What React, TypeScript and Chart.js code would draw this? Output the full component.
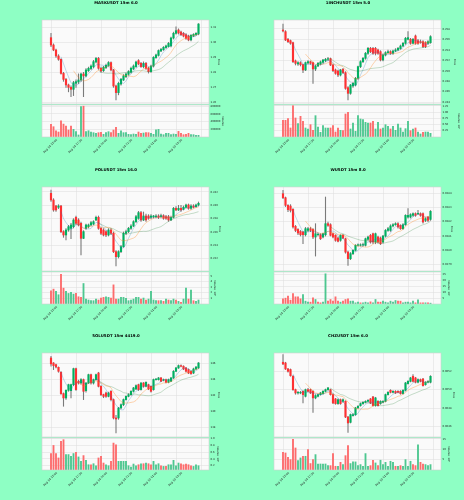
import React, { useEffect, useRef } from 'react';
import { Chart, registerables } from 'chart.js';

Chart.register(...registerables);

// ---------- shared axis data ----------
const X_TICK_POS = [0, 10, 20, 30, 40, 50, 60];
const X_TICK_LABELS = ['Aug 14 15:00', 'Aug 14 17:30', 'Aug 14 20:00', 'Aug 14 22:30', 'Aug 15 01:00', 'Aug 15 03:30', ''];
const MA_PERIODS = [5, 10, 20];

// ---------- MASKUSDT ----------
const MASK_OPEN = [1.3031,1.2982,1.2949,1.2909,1.2887,1.2793,1.2753,1.2716,1.2700,1.2687,1.2727,1.2736,1.2749,1.2789,1.2776,1.2811,1.2825,1.2838,1.2869,1.2893,1.2827,1.2811,1.2831,1.2845,1.2865,1.2816,1.2709,1.2665,1.2722,1.2749,1.2771,1.2787,1.2800,1.2823,1.2838,1.2878,1.2860,1.2838,1.2860,1.2827,1.2805,1.2842,1.2898,1.2913,1.2942,1.2951,1.2965,1.2972,1.2976,1.3029,1.3060,1.3082,1.3069,1.3060,1.3051,1.3042,1.3016,1.3042,1.3051,1.3056];
const MASK_HIGH = [1.3060,1.2990,1.2955,1.2918,1.2890,1.2800,1.2760,1.2722,1.2710,1.2740,1.2750,1.2790,1.2795,1.2800,1.2825,1.2835,1.2850,1.2880,1.2900,1.2900,1.2835,1.2840,1.2855,1.2872,1.2870,1.2820,1.2715,1.2735,1.2760,1.2785,1.2795,1.2812,1.2835,1.2850,1.2875,1.2885,1.2866,1.2870,1.2866,1.2835,1.2848,1.2905,1.2922,1.2950,1.2960,1.2972,1.2982,1.3000,1.3035,1.3068,1.3104,1.3090,1.3075,1.3066,1.3058,1.3048,1.3052,1.3058,1.3065,1.3125];
const MASK_LOW = [1.2971,1.2944,1.2900,1.2880,1.2788,1.2740,1.2700,1.2670,1.2638,1.2645,1.2700,1.2725,1.2740,1.2638,1.2770,1.2805,1.2818,1.2830,1.2862,1.2820,1.2800,1.2805,1.2825,1.2840,1.2810,1.2700,1.2616,1.2650,1.2715,1.2745,1.2765,1.2780,1.2795,1.2818,1.2832,1.2850,1.2832,1.2830,1.2820,1.2795,1.2800,1.2835,1.2892,1.2908,1.2938,1.2946,1.2960,1.2968,1.2970,1.3022,1.3055,1.3055,1.3045,1.3036,1.3020,1.3010,1.3010,1.3038,1.3045,1.3050];
const MASK_CLOSE = [1.2982,1.2949,1.2909,1.2887,1.2793,1.2753,1.2716,1.2700,1.2687,1.2731,1.2738,1.2749,1.2789,1.2776,1.2816,1.2827,1.2842,1.2871,1.2893,1.2827,1.2809,1.2834,1.2847,1.2865,1.2816,1.2709,1.2665,1.2727,1.2754,1.2776,1.2789,1.2805,1.2827,1.2842,1.2869,1.2856,1.2838,1.2860,1.2827,1.2805,1.2842,1.2900,1.2916,1.2945,1.2953,1.2967,1.2976,1.2993,1.3029,1.3060,1.3078,1.3062,1.3051,1.3042,1.3027,1.3016,1.3047,1.3053,1.3060,1.3122];
const MASK_VOL = [327000,267000,163000,129000,421000,335000,284000,181000,284000,198000,138000,52000,790000,800000,138000,163000,129000,112000,95000,112000,120000,69000,112000,138000,112000,181000,250000,95000,163000,112000,112000,69000,60000,77000,69000,129000,95000,103000,112000,112000,95000,69000,189000,198000,77000,60000,95000,95000,60000,77000,69000,146000,95000,60000,69000,95000,60000,60000,43000,43000];
const MASK_PRICE_TICKS = [1.26, 1.27, 1.28, 1.29, 1.30, 1.31];
const MASK_VOL_TICKS = [200000, 400000, 600000, 800000];

// ---------- 1INCHUSDT ----------
const INCH_OPEN = [0.25781,0.25749,0.25603,0.25577,0.25539,0.25189,0.25131,0.25157,0.25119,0.25017,0.25151,0.25176,0.25157,0.25036,0.25093,0.25131,0.25163,0.25195,0.25221,0.25233,0.25112,0.25017,0.24998,0.24921,0.25030,0.24966,0.24679,0.24571,0.24711,0.24730,0.24858,0.25081,0.25176,0.25240,0.25335,0.25431,0.25431,0.25431,0.25399,0.25367,0.25208,0.25303,0.25348,0.25367,0.25335,0.25380,0.25399,0.25425,0.25475,0.25526,0.25603,0.25603,0.25526,0.25667,0.25577,0.25558,0.25558,0.25539,0.25526,0.25539];
const INCH_HIGH = [0.25896,0.25769,0.25622,0.25590,0.25552,0.25208,0.25176,0.25176,0.25131,0.25170,0.25195,0.25189,0.25170,0.25106,0.25163,0.25189,0.25221,0.25240,0.25259,0.25246,0.25125,0.25036,0.25017,0.25030,0.25049,0.24985,0.24698,0.24743,0.24781,0.24877,0.25093,0.25195,0.25259,0.25354,0.25450,0.25450,0.25450,0.25450,0.25418,0.25386,0.25323,0.25367,0.25399,0.25386,0.25399,0.25425,0.25450,0.25495,0.25546,0.25641,0.25749,0.25622,0.25622,0.25686,0.25603,0.25590,0.25577,0.25558,0.25577,0.25673];
const INCH_LOW = [0.25743,0.25577,0.25539,0.25507,0.25157,0.25112,0.25106,0.25093,0.24966,0.25004,0.25131,0.25125,0.24762,0.25004,0.25081,0.25112,0.25144,0.25176,0.25195,0.25100,0.24985,0.24934,0.24889,0.24902,0.24947,0.24647,0.24444,0.24552,0.24686,0.24711,0.24838,0.25061,0.25157,0.25221,0.25316,0.25348,0.25316,0.25303,0.25316,0.25189,0.25189,0.25284,0.25335,0.25316,0.25316,0.25367,0.25386,0.25412,0.25463,0.25507,0.25590,0.25507,0.25514,0.25507,0.25507,0.25526,0.25444,0.25444,0.25507,0.25526];
const INCH_CLOSE = [0.25762,0.25590,0.25558,0.25526,0.25176,0.25144,0.25157,0.25119,0.25017,0.25157,0.25176,0.25144,0.25036,0.25093,0.25144,0.25170,0.25208,0.25221,0.25233,0.25112,0.25004,0.24953,0.24921,0.25017,0.24966,0.24666,0.24571,0.24730,0.24762,0.24858,0.25081,0.25176,0.25240,0.25335,0.25431,0.25367,0.25335,0.25335,0.25335,0.25208,0.25303,0.25348,0.25367,0.25335,0.25380,0.25399,0.25431,0.25475,0.25526,0.25622,0.25635,0.25526,0.25603,0.25526,0.25526,0.25545,0.25463,0.25463,0.25558,0.25654];
const INCH_VOL_E7 = [0.672,0.672,0.739,0.363,1.263,0.766,0.538,0.833,0.632,0.363,0.323,0.497,0.269,0.860,0.403,0.188,0.457,0.363,0.363,0.363,0.457,0.202,0.363,0.269,0.255,0.927,0.995,0.323,0.565,0.228,0.860,0.726,0.699,0.591,0.565,0.565,0.632,0.323,0.591,0.323,0.363,0.497,0.430,0.323,0.430,0.269,0.524,0.363,0.202,0.336,0.632,0.255,0.323,0.363,0.202,0.121,0.188,0.202,0.202,0.148];
const INCH_PRICE_TICKS = [0.244, 0.246, 0.248, 0.250, 0.252, 0.254, 0.256, 0.258];
const INCH_VOL_TICKS = [0.25, 0.5, 0.75, 1.0, 1.25];

// ---------- POLUSDT ----------
const POL_OPEN = [0.2418,0.2408,0.2399,0.2397,0.2399,0.23605,0.23555,0.2363,0.23655,0.2368,0.2382,0.2378,0.2373,0.23505,0.23655,0.2368,0.23705,0.2372,0.2378,0.2382,0.23655,0.2363,0.23605,0.23555,0.2363,0.2358,0.23305,0.2323,0.23305,0.2338,0.2358,0.23605,0.23655,0.2369,0.23755,0.23805,0.2389,0.2378,0.2384,0.2384,0.2382,0.2383,0.2383,0.2384,0.2383,0.23845,0.2383,0.2383,0.2378,0.2382,0.23955,0.2393,0.23955,0.2394,0.2397,0.24005,0.23955,0.2399,0.2398,0.24005];
const POL_HIGH = [0.2423,0.2410,0.2400,0.2401,0.2400,0.2362,0.2365,0.2370,0.2373,0.2380,0.2384,0.2380,0.2375,0.2362,0.2372,0.2372,0.2376,0.2377,0.2384,0.2384,0.2367,0.2365,0.2362,0.2365,0.2365,0.2360,0.2332,0.2332,0.2340,0.2360,0.2363,0.2367,0.2371,0.2377,0.2385,0.2391,0.2391,0.2390,0.2387,0.2386,0.2386,0.2385,0.2386,0.2386,0.2387,0.2386,0.2385,0.2385,0.2384,0.2397,0.2398,0.2400,0.2400,0.2399,0.2402,0.2402,0.2401,0.2401,0.2402,0.2405];
const POL_LOW = [0.2406,0.2391,0.2391,0.2395,0.2359,0.2352,0.2348,0.2361,0.2350,0.2366,0.2371,0.2369,0.23255,0.2350,0.2364,0.2366,0.2369,0.2371,0.2377,0.2364,0.2356,0.2354,0.2353,0.2354,0.2356,0.2329,0.2309,0.2321,0.2329,0.2337,0.2356,0.2359,0.2364,0.2368,0.2374,0.2379,0.2376,0.2377,0.2376,0.2379,0.2380,0.2381,0.2381,0.2380,0.2381,0.2379,0.2379,0.2376,0.2377,0.2381,0.2392,0.2392,0.2391,0.2393,0.2396,0.2394,0.2394,0.2396,0.2397,0.2399];
const POL_CLOSE = [0.2408,0.2393,0.2393,0.2399,0.23605,0.23555,0.2363,0.2368,0.23705,0.2378,0.2373,0.23705,0.23505,0.23605,0.23705,0.23705,0.2374,0.23755,0.2382,0.23655,0.2358,0.23555,0.23555,0.2363,0.2358,0.23305,0.2323,0.23305,0.2338,0.2358,0.23605,0.23655,0.2369,0.23755,0.2383,0.2389,0.2378,0.2384,0.2378,0.23805,0.2384,0.2384,0.2384,0.2382,0.23845,0.23805,0.23805,0.2378,0.2382,0.23955,0.2393,0.23955,0.2393,0.2397,0.24005,0.23955,0.2399,0.2397,0.24005,0.2403];
const POL_VOL_E6 = [2.35,2.65,2.24,1.65,5.29,2.82,2.24,1.88,2.06,1.76,1.88,1.29,1.18,3.65,0.88,0.71,0.59,0.59,0.88,0.71,1.06,1.18,1.29,1.18,1.06,3.41,0.88,0.88,1.18,1.18,1.00,0.59,0.71,0.88,1.18,1.18,0.88,1.06,0.71,0.88,2.24,0.71,0.59,0.59,0.59,0.47,0.88,0.71,0.59,0.88,0.71,0.47,0.29,0.88,2.82,0.88,2.47,0.59,0.47,0.71];
const POL_PRICE_TICKS = [0.232, 0.234, 0.236, 0.238, 0.240, 0.242];
const POL_VOL_TICKS = [1, 2, 3, 4, 5];

// ---------- WUSDT ----------
const W_OPEN = [0.038395,0.038367,0.038314,0.038309,0.038286,0.038167,0.038146,0.038132,0.038128,0.038109,0.038139,0.038151,0.038146,0.038093,0.038109,0.038109,0.038093,0.038109,0.038186,0.038179,0.038116,0.038105,0.038086,0.038070,0.038105,0.038081,0.037988,0.037942,0.037977,0.038000,0.038035,0.038035,0.038037,0.038035,0.038077,0.038105,0.038116,0.038058,0.038093,0.038086,0.038058,0.038100,0.038139,0.038139,0.038170,0.038179,0.038186,0.038174,0.038151,0.038179,0.038232,0.038232,0.038244,0.038256,0.038255,0.038256,0.038256,0.038209,0.038232,0.038216];
const W_HIGH = [0.038419,0.038372,0.038319,0.038319,0.038291,0.038174,0.038151,0.038139,0.038132,0.038160,0.038160,0.038160,0.038151,0.038186,0.038121,0.038116,0.038121,0.038372,0.038198,0.038186,0.038121,0.038109,0.038093,0.038109,0.038112,0.038086,0.037995,0.037985,0.038005,0.038040,0.038046,0.038046,0.038050,0.038086,0.038100,0.038112,0.038121,0.038121,0.038100,0.038093,0.038105,0.038146,0.038160,0.038179,0.038186,0.038193,0.038193,0.038179,0.038186,0.038249,0.038291,0.038256,0.038262,0.038262,0.038279,0.038262,0.038262,0.038228,0.038237,0.038278];
const W_LOW = [0.038360,0.038305,0.038270,0.038267,0.038155,0.038130,0.038110,0.038100,0.038046,0.038100,0.038130,0.038130,0.038081,0.037960,0.038100,0.038075,0.038086,0.038100,0.038167,0.038100,0.038086,0.038063,0.038058,0.038063,0.038081,0.037980,0.037895,0.037935,0.037970,0.037995,0.038030,0.038030,0.038030,0.038030,0.038070,0.038050,0.038046,0.038046,0.038050,0.038040,0.038050,0.038093,0.038132,0.038132,0.038163,0.038174,0.038155,0.038146,0.038146,0.038174,0.038225,0.038225,0.038237,0.038237,0.038249,0.038237,0.038190,0.038200,0.038200,0.038209];
const W_CLOSE = [0.038367,0.038314,0.038284,0.038279,0.038163,0.038139,0.038121,0.038109,0.038109,0.038151,0.038151,0.038139,0.038093,0.038116,0.038112,0.038081,0.038116,0.038186,0.038174,0.038105,0.038093,0.038070,0.038063,0.038105,0.038086,0.037988,0.037942,0.037977,0.038000,0.038035,0.038039,0.038037,0.038040,0.038081,0.038093,0.038058,0.038058,0.038116,0.038058,0.038046,0.038100,0.038139,0.038151,0.038170,0.038179,0.038186,0.038163,0.038151,0.038179,0.038244,0.038244,0.038249,0.038256,0.038244,0.038256,0.038244,0.038198,0.038221,0.038209,0.038272];
const W_VOL_E5 = [4.37,4.93,6.62,3.24,8.87,6.06,6.06,4.37,8.03,2.39,1.55,1.55,5.21,3.80,1.55,0.99,1.55,25.49,2.39,3.80,2.39,6.06,2.39,1.55,2.39,3.80,4.37,2.39,2.39,0.99,1.55,0.99,0.99,1.55,0.99,1.83,0.99,3.80,1.55,1.55,2.39,1.55,0.99,2.39,1.55,2.96,2.39,2.39,0.99,1.55,1.55,0.99,2.39,0.99,3.52,0.99,0.99,0.99,0.99,0.70];
const W_PRICE_TICKS = [0.0379, 0.0380, 0.0381, 0.0382, 0.0383, 0.0384];
const W_VOL_TICKS = [5, 10, 15, 20, 25];

// ---------- SOLUSDT ----------
const SOL_OPEN = [146.67,146.04,145.83,145.50,144.88,142.21,141.67,142.63,142.58,143.33,145.33,143.75,143.54,143.96,142.58,143.54,144.58,143.54,143.96,144.79,143.12,142.08,142.29,141.87,142.50,141.46,139.17,139.17,140.42,140.83,141.46,141.87,142.08,142.50,142.79,143.33,142.71,143.54,143.12,143.33,143.12,142.71,143.96,143.96,144.17,143.88,143.96,143.63,143.75,144.17,145.00,145.42,145.71,145.63,145.42,145.21,145.00,144.79,145.29,145.42];
const SOL_HIGH = [146.87,146.10,145.90,145.55,144.95,142.30,142.70,143.40,143.40,145.40,145.40,143.90,144.10,144.04,143.60,144.65,144.65,144.04,144.65,144.88,143.21,142.15,142.40,142.40,142.60,141.55,139.50,140.50,140.95,141.55,141.95,142.20,142.60,143.00,143.30,143.40,143.60,143.60,143.70,143.40,143.20,144.04,144.10,144.25,144.25,144.04,144.04,144.04,144.25,145.10,145.50,145.80,145.80,145.70,145.50,145.30,145.10,145.40,145.60,146.10];
const SOL_LOW = [145.63,145.21,145.42,144.88,142.10,140.63,141.50,142.50,141.67,143.20,142.60,143.40,143.40,141.46,142.40,143.46,143.40,143.40,143.88,143.04,141.95,141.70,141.75,141.80,141.30,139.04,137.29,139.00,140.30,140.70,141.40,141.80,142.00,142.40,142.70,142.60,142.65,143.00,143.04,142.70,142.40,142.63,143.88,143.90,143.70,143.80,143.55,143.55,143.70,144.10,144.95,145.35,145.55,145.20,144.90,144.70,144.60,144.70,145.20,145.35];
const SOL_CLOSE = [145.92,145.71,145.54,145.00,142.21,141.67,142.63,143.33,143.33,145.33,142.71,143.54,143.96,142.50,143.54,144.58,143.54,143.96,144.58,143.12,142.08,141.87,141.87,142.29,141.46,139.17,139.04,140.42,140.83,141.46,141.87,142.08,142.50,142.92,143.21,142.71,143.54,143.12,143.63,142.79,142.50,143.96,144.04,144.17,143.75,143.96,143.63,143.96,144.17,145.00,145.42,145.71,145.63,145.29,145.00,144.79,144.71,145.29,145.54,146.04];
const SOL_VOL_E6 = [0.56,0.80,0.56,0.43,0.92,0.97,0.53,0.53,0.48,0.56,0.60,0.46,0.33,0.50,0.36,0.23,0.23,0.26,0.20,0.43,0.48,0.28,0.23,0.20,0.33,0.87,0.82,0.33,0.33,0.33,0.33,0.20,0.16,0.25,0.20,0.23,0.26,0.26,0.28,0.26,0.23,0.33,0.23,0.26,0.20,0.18,0.18,0.23,0.23,0.36,0.20,0.28,0.26,0.23,0.25,0.23,0.20,0.18,0.23,0.20];
const SOL_PRICE_TICKS = [138, 140, 142, 144, 146];
const SOL_VOL_TICKS = [0.2, 0.4, 0.6, 0.8, 1.0];

// ---------- CHZUSDT ----------
const CHZ_OPEN = [0.065299,0.065291,0.065226,0.065219,0.065146,0.065000,0.064964,0.064964,0.064982,0.064928,0.065000,0.065000,0.064982,0.064910,0.064928,0.064946,0.064957,0.064982,0.065000,0.065000,0.064946,0.064899,0.064848,0.064891,0.064873,0.064873,0.064702,0.064644,0.064717,0.064728,0.064801,0.064826,0.064848,0.064862,0.064873,0.064899,0.064921,0.064826,0.064873,0.064848,0.064862,0.064873,0.064946,0.064993,0.064971,0.064982,0.064982,0.064982,0.064957,0.064993,0.065066,0.065091,0.065146,0.065128,0.065081,0.065110,0.065117,0.065055,0.065081,0.065081];
const CHZ_HIGH = [0.065382,0.065299,0.065233,0.065226,0.065153,0.065007,0.064982,0.064982,0.064990,0.065007,0.065015,0.065007,0.064990,0.064946,0.064955,0.064971,0.064990,0.065007,0.065026,0.065007,0.064955,0.064905,0.064899,0.064899,0.064899,0.064880,0.064710,0.064735,0.064740,0.064808,0.064826,0.064855,0.064870,0.064880,0.064891,0.064905,0.064928,0.064917,0.064880,0.064880,0.064880,0.064953,0.064980,0.065000,0.064990,0.064990,0.064990,0.064990,0.065000,0.065080,0.065098,0.065135,0.065164,0.065135,0.065117,0.065117,0.065124,0.065088,0.065098,0.065153];
const CHZ_LOW = [0.065273,0.065219,0.065190,0.065146,0.064993,0.064950,0.064950,0.064955,0.064855,0.064920,0.064975,0.064957,0.064753,0.064900,0.064920,0.064940,0.064950,0.064975,0.064993,0.064940,0.064848,0.064840,0.064840,0.064840,0.064862,0.064695,0.064535,0.064637,0.064710,0.064720,0.064795,0.064819,0.064840,0.064855,0.064866,0.064848,0.064819,0.064819,0.064819,0.064840,0.064855,0.064866,0.064940,0.064964,0.064964,0.064957,0.064964,0.064950,0.064950,0.064985,0.065060,0.065084,0.065084,0.065073,0.065073,0.065084,0.065037,0.065048,0.065073,0.065073];
const CHZ_CLOSE = [0.065280,0.065226,0.065200,0.065153,0.065000,0.064964,0.064971,0.064971,0.064946,0.065000,0.064982,0.064964,0.064910,0.064935,0.064946,0.064964,0.064982,0.065000,0.065019,0.064946,0.064855,0.064848,0.064891,0.064848,0.064891,0.064702,0.064637,0.064728,0.064728,0.064801,0.064819,0.064848,0.064862,0.064873,0.064884,0.064855,0.064826,0.064910,0.064826,0.064873,0.064873,0.064946,0.064971,0.064971,0.064982,0.064964,0.064971,0.064957,0.064993,0.065073,0.065091,0.065128,0.065091,0.065081,0.065110,0.065091,0.065044,0.065081,0.065091,0.065146];
const CHZ_VOL_E6 = [8.5,8.2,6.1,5.0,14.8,10.6,4.5,5.8,6.6,6.6,9.8,3.1,5.0,7.4,2.9,2.9,2.9,2.9,2.1,2.1,7.9,1.8,1.8,3.7,2.6,6.9,11.7,3.1,3.9,3.9,2.1,2.6,1.8,7.9,1.8,2.1,4.7,3.4,2.1,4.7,2.6,3.7,1.8,4.2,3.7,1.8,1.8,2.1,1.8,5.0,1.8,4.2,2.6,2.1,12.1,3.7,2.9,2.6,2.1,2.6];
const CHZ_PRICE_TICKS = [0.0646, 0.0648, 0.0650, 0.0652];
const CHZ_VOL_TICKS = [5, 10, 15];

// ---------- style ----------
const FONT = 'DejaVu Sans';
const PAGE_BG = '#8effc4';
const FACE = '#fafafa';
const GRID = '#dcdcdc';
const EDGE = '#d0d0d0';
const UP = '#00b060';
const DOWN = '#fe3032';
const WICK = '#7a7a7a';
const VOL_UP = '#4dc790';
const VOL_DOWN = '#fd6b6c';
const MA_COLORS = ['rgba(31,119,180,0.45)', 'rgba(255,127,14,0.55)', 'rgba(44,130,60,0.45)'];
const TEXT = '#222222';
const SMALL = 2.6;
const X_MIN = -3.6;
const X_MAX = 63.2;
const W = 232;

type Panel = {
  title: string;
  open: number[]; high: number[]; low: number[]; close: number[]; vol: number[];
  pMin: number; pMax: number; pTicks: number[]; pDec: number;
  vMin: number; vMax: number; vTicks: number[]; vDec: number; vLabel: string;
  pTitleX: number; vTitleX: number;
};

const PANELS: Panel[] = [
  { title: 'MASKUSDT 15m 6.0', open: MASK_OPEN, high: MASK_HIGH, low: MASK_LOW, close: MASK_CLOSE, vol: MASK_VOL,
    pMin: 1.2589, pMax: 1.3149, pTicks: MASK_PRICE_TICKS, pDec: 2,
    vMin: 0, vMax: 830000, vTicks: MASK_VOL_TICKS, vDec: 0, vLabel: 'Volume', pTitleX: 218.3, vTitleX: 222.7 },
  { title: '1INCHUSDT 15m 5.0', open: INCH_OPEN, high: INCH_HIGH, low: INCH_LOW, close: INCH_CLOSE, vol: INCH_VOL_E7,
    pMin: 0.24367, pMax: 0.25972, pTicks: INCH_PRICE_TICKS, pDec: 3,
    vMin: 0, vMax: 1.29, vTicks: INCH_VOL_TICKS, vDec: 2, vLabel: 'Volume  10\u2077', pTitleX: 222.7, vTitleX: 226.7 },
  { title: 'POLUSDT 15m 16.0', open: POL_OPEN, high: POL_HIGH, low: POL_LOW, close: POL_CLOSE, vol: POL_VOL_E6,
    pMin: 0.23015, pMax: 0.24275, pTicks: POL_PRICE_TICKS, pDec: 3,
    vMin: 0, vMax: 5.7, vTicks: POL_VOL_TICKS, vDec: 0, vLabel: 'Volume  10\u2076', pTitleX: 220, vTitleX: 215 },
  { title: 'WUSDT 15m 8.0', open: W_OPEN, high: W_HIGH, low: W_LOW, close: W_CLOSE, vol: W_VOL_E5,
    pMin: 0.037856, pMax: 0.038442, pTicks: W_PRICE_TICKS, pDec: 4,
    vMin: 0, vMax: 27, vTicks: W_VOL_TICKS, vDec: 0, vLabel: 'Volume  10\u2075', pTitleX: 220, vTitleX: 216.7 },
  { title: 'SOLUSDT 15m 4419.0', open: SOL_OPEN, high: SOL_HIGH, low: SOL_LOW, close: SOL_CLOSE, vol: SOL_VOL_E6,
    pMin: 136.79, pMax: 147.29, pTicks: SOL_PRICE_TICKS, pDec: 0,
    vMin: 0.074, vMax: 1.02, vTicks: SOL_VOL_TICKS, vDec: 1, vLabel: 'Volume  10\u2076', pTitleX: 218.3, vTitleX: 217.3 },
  { title: 'CHZUSDT 15m 6.0', open: CHZ_OPEN, high: CHZ_HIGH, low: CHZ_LOW, close: CHZ_CLOSE, vol: CHZ_VOL_E6,
    pMin: 0.064484, pMax: 0.0654, pTicks: CHZ_PRICE_TICKS, pDec: 4,
    vMin: 0, vMax: 15.4, vTicks: CHZ_VOL_TICKS, vDec: 0, vLabel: 'Volume  10\u2076', pTitleX: 221.7, vTitleX: 216.7 },
];

function sma(values: number[], n: number): (number | null)[] {
  return values.map((_, i) => {
    if (i < n - 1) return null;
    let s = 0;
    for (let k = i - n + 1; k <= i; k++) s += values[k];
    return s / n;
  });
}

const framePlugin = {
  id: 'frame',
  beforeDraw(chart: any) {
    const { ctx, chartArea: a } = chart;
    ctx.save();
    ctx.fillStyle = FACE;
    ctx.fillRect(a.left, a.top, a.right - a.left, a.bottom - a.top);
    ctx.restore();
  },
  afterDraw(chart: any) {
    const { ctx, chartArea: a } = chart;
    ctx.save();
    ctx.strokeStyle = EDGE;
    ctx.lineWidth = 0.6;
    ctx.strokeRect(a.left, a.top, a.right - a.left, a.bottom - a.top);
    ctx.restore();
  },
};

const smallFont = { family: FONT, size: SMALL };

function xScale(showLabels: boolean, height: number) {
  return {
    type: 'linear', min: X_MIN, max: X_MAX, offset: false, bounds: 'data',
    grid: { color: GRID, lineWidth: 0.5, drawTicks: false, offset: false },
    border: { display: false },
    ticks: showLabels
      ? {
          display: true, autoSkip: false, minRotation: 45, maxRotation: 45, padding: 1.2, labelOffset: 6,
          font: { family: FONT, size: 2.8 }, color: TEXT,
          callback: (v: number) => { const k = X_TICK_POS.indexOf(v); return k >= 0 ? X_TICK_LABELS[k] : ''; },
        }
      : { display: false },
    afterBuildTicks: (s: any) => { s.ticks = X_TICK_POS.map((v) => ({ value: v })); },
    afterFit: (s: any) => { s.height = height; },
  };
}

function leftSpacer() {
  return {
    type: 'linear', position: 'left', display: true,
    grid: { display: false }, border: { display: false }, ticks: { display: false },
    afterFit: (s: any) => { s.width = 42; },
  };
}

function rightAxis(min: number, max: number, ticks: number[], dec: number, label: string, titleX: number) {
  const lh = SMALL * 1.2;
  return {
    type: 'linear', position: 'right', min, max, bounds: 'data', beginAtZero: false,
    grid: { color: GRID, lineWidth: 0.5, drawTicks: false },
    border: { display: false },
    ticks: { autoSkip: false, padding: 1.5, font: smallFont, color: TEXT, callback: (v: number) => v.toFixed(dec) },
    afterBuildTicks: (s: any) => { s.ticks = ticks.map((v) => ({ value: v })); },
    title: { display: true, text: label, font: smallFont, color: TEXT, padding: { top: W - titleX - lh / 2, bottom: 0 } },
    afterFit: (s: any) => { s.width = W - 209; },
  };
}

function priceConfig(p: Panel): any {
  const idx = p.open.map((_, i) => i);
  const colors = idx.map((i) => (p.close[i] >= p.open[i] ? UP : DOWN));
  const maLines = MA_PERIODS.map((n, k) => ({
    type: 'line',
    data: sma(p.close, n).map((v, i) => (v === null ? null : { x: i, y: v })).filter((d) => d !== null),
    borderColor: MA_COLORS[k], borderWidth: 0.6, pointRadius: 0, tension: 0,
    xAxisID: 'x', yAxisID: 'y', order: 1,
  }));
  return {
    type: 'bar',
    data: {
      datasets: [
        { type: 'bar', data: idx.map((i) => ({ x: i, y: [p.low[i], p.high[i]] })), backgroundColor: WICK,
          barThickness: 0.45, grouped: false, xAxisID: 'x', yAxisID: 'y', order: 3 },
        { type: 'bar', data: idx.map((i) => ({ x: i, y: [p.open[i], p.close[i]] })), backgroundColor: colors,
          barThickness: 1.5, minBarLength: 0.5, grouped: false, xAxisID: 'x', yAxisID: 'y', order: 2 },
        ...maLines,
      ],
    },
    options: {
      animation: false, responsive: false, devicePixelRatio: 1, events: [],
      layout: { padding: 0 },
      plugins: {
        legend: { display: false }, tooltip: { enabled: false },
        title: { display: true, text: p.title, color: '#000', font: { family: FONT, size: 3.9, weight: 'bold' },
                 padding: { top: 0.8, bottom: 14.5 } },
      },
      scales: {
        x: xScale(false, 6),
        y: rightAxis(p.pMin, p.pMax, p.pTicks, p.pDec, 'Price', p.pTitleX),
        yL: leftSpacer(),
      },
    },
    plugins: [framePlugin],
  };
}

function volConfig(p: Panel): any {
  const idx = p.vol.map((_, i) => i);
  const colors = idx.map((i) => {
    const ref = i === 0 ? p.open[0] : p.close[i - 1];
    return p.close[i] >= ref ? VOL_UP : VOL_DOWN;
  });
  return {
    type: 'bar',
    data: {
      datasets: [
        { type: 'bar', data: idx.map((i) => ({ x: i, y: p.vol[i] })), backgroundColor: colors,
          barThickness: 1.2, grouped: false, xAxisID: 'x', yAxisID: 'y' },
      ],
    },
    options: {
      animation: false, responsive: false, devicePixelRatio: 1, events: [],
      layout: { padding: { top: 6, left: 0, right: 0, bottom: 0 } },
      plugins: { legend: { display: false }, tooltip: { enabled: false }, title: { display: false } },
      scales: {
        x: xScale(true, 30),
        y: rightAxis(p.vMin, p.vMax, p.vTicks, p.vDec, p.vLabel, p.vTitleX),
        yL: leftSpacer(),
      },
    },
    plugins: [framePlugin],
  };
}

function PanelCharts({ p, left, top }: { p: Panel; left: number; top: number }) {
  const priceRef = useRef<HTMLCanvasElement>(null);
  const volRef = useRef<HTMLCanvasElement>(null);
  useEffect(() => {
    const c1 = new Chart(priceRef.current as HTMLCanvasElement, priceConfig(p));
    const c2 = new Chart(volRef.current as HTMLCanvasElement, volConfig(p));
    return () => { c1.destroy(); c2.destroy(); };
  }, [p]);
  return (
    <>
      <canvas ref={priceRef} width={W} height={110}
        style={{ position: 'absolute', left, top, width: W, height: 110 }} />
      <canvas ref={volRef} width={W} height={68}
        style={{ position: 'absolute', left, top: top + 99, width: W, height: 68 }} />
    </>
  );
}

const ROW_TOPS = [0, 167, 333];

export default function App() {
  return (
    <div style={{ position: 'fixed', left: 0, top: 0, width: 464, height: 500, background: PAGE_BG, overflow: 'hidden' }}>
      {PANELS.map((p, k) => (
        <PanelCharts key={k} p={p} left={(k % 2) * W} top={ROW_TOPS[Math.floor(k / 2)]} />
      ))}
    </div>
  );
}
